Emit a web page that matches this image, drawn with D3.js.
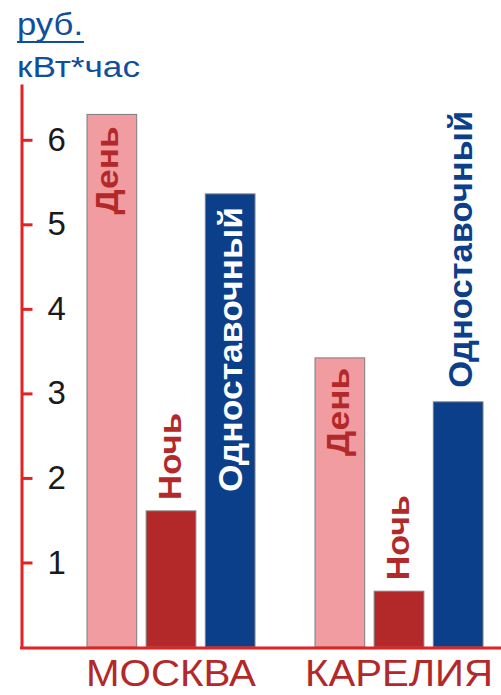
<!DOCTYPE html>
<html><head><meta charset="utf-8">
<script src="https://cdn.jsdelivr.net/npm/d3@7"></script>
<style>body{margin:0;background:#fff}svg{display:block}</style>
</head><body>
<svg id="c" width="501" height="695"></svg>
<script>
// ---- data ----
const categories = ["МОСКВА", "КАРЕЛИЯ"];
const series = ["День", "Ночь", "Одноставочный"];
const moscowValues = [6.30, 1.61, 5.36];
const kareliaValues = [3.42, 0.66, 2.90];
const yTicks = [1, 2, 3, 4, 5, 6];
const unitTop = "руб.";
const unitBottom = "кВт*час";

// ---- style config ----
const seriesColors = ["#F09CA0", "#B3292A", "#0B3F8A"];
const axisRed = "#E32322";
const unitBlue = "#104E9E";
const catLabelLengths = [170, 188];
// label placement per [category][series]
const labelStyle = [
  [ {pos:"in", gap:12, fs:31, len:88, dx:6, fill:"#B3292A"},
    {pos:"out", gap:11, fs:32, len:87, dx:10, fill:"#B3292A"},
    {pos:"in", gap:13, fs:34, len:285, dx:12, fill:"#ffffff"} ],
  [ {pos:"in", gap:10, fs:31, len:88, dx:9, fill:"#B3292A"},
    {pos:"out", gap:11, fs:32, len:85, dx:10, fill:"#B3292A"},
    {pos:"out", gap:14, fs:34, len:277, dx:14, fill:"#0B3F8A"} ]
];

const valuesByCat = [moscowValues, kareliaValues];
const table = categories.map((c, i) => ({cat: c, values: series.map((s, j) => ({s, j, i, v: valuesByCat[i][j]}))}));

const svg = d3.select("#c");
const font = "'Liberation Sans', Arial, sans-serif";

const x0 = d3.scaleBand().domain(categories).range([87, 483]).paddingInner(60 / 228).paddingOuter(0);
const x1 = d3.scaleBand().domain(series).range([0, x0.bandwidth()]).paddingInner(0.16);
const y = d3.scaleLinear().domain([0, 6.66]).range([647, 84]);

// bars
const groups = svg.selectAll("g.grp").data(table).join("g")
  .attr("class", "grp")
  .attr("transform", d => `translate(${x0(d.cat)},0)`);

groups.selectAll("rect").data(d => d.values).join("rect")
  .attr("x", d => x1(d.s))
  .attr("y", d => y(d.v))
  .attr("width", x1.bandwidth())
  .attr("height", d => y(0) - y(d.v))
  .attr("fill", d => seriesColors[d.j])
  .attr("stroke", "#7d7d7d")
  .attr("stroke-width", 1);

// bar labels (rotated)
groups.selectAll("text.bl").data(d => d.values).join("text")
  .attr("class", "bl")
  .each(function(d) {
    const st = labelStyle[d.i][d.j];
    const cx = x1(d.s) + x1.bandwidth() / 2 + st.dx;
    const ty = st.pos === "in" ? y(d.v) + st.gap : y(d.v) - st.gap;
    d3.select(this)
      .attr("transform", `translate(${cx},${ty}) rotate(-90)`)
      .attr("text-anchor", st.pos === "in" ? "end" : "start")
      .attr("font-family", font)
      .attr("font-weight", "bold")
      .attr("font-size", st.fs)
      .attr("textLength", st.len)
      .attr("lengthAdjust", "spacingAndGlyphs")
      .attr("fill", st.fill)
      .text(d.s);
  });

// y axis
const yAxis = d3.axisRight(y).tickValues(yTicks).tickSize(11).tickSizeOuter(0).tickPadding(15).tickFormat(d3.format("d"));
const ga = svg.append("g").attr("transform", "translate(21.5,0)").call(yAxis);
ga.select(".domain").attr("stroke", axisRed).attr("stroke-width", 3);
ga.selectAll(".tick line").attr("stroke", axisRed).attr("stroke-width", 3);
ga.selectAll(".tick text")
  .attr("fill", "#1a1a1a")
  .attr("font-family", font)
  .attr("font-size", 33);

// x axis line
svg.append("line")
  .attr("x1", 20).attr("x2", 501)
  .attr("y1", y(0) + 1).attr("y2", y(0) + 1)
  .attr("stroke", axisRed).attr("stroke-width", 3);

// category labels
svg.selectAll("text.cat").data(categories).join("text")
  .attr("class", "cat")
  .attr("x", d => x0(d) + x0.bandwidth() / 2)
  .attr("y", 686)
  .attr("text-anchor", "middle")
  .attr("font-family", font)
  .attr("font-size", 37)
  .attr("textLength", (d, i) => catLabelLengths[i])
  .attr("lengthAdjust", "spacingAndGlyphs")
  .attr("fill", "#B3292A")
  .text(d => d);

// units
svg.append("text").attr("x", 17).attr("y", 35)
  .attr("font-family", font).attr("font-size", 31)
  .attr("textLength", 66).attr("lengthAdjust", "spacingAndGlyphs")
  .attr("fill", unitBlue).text(unitTop);
svg.append("line").attr("x1", 17).attr("x2", 84).attr("y1", 42).attr("y2", 42)
  .attr("stroke", unitBlue).attr("stroke-width", 2);
svg.append("text").attr("x", 17).attr("y", 77)
  .attr("font-family", font).attr("font-size", 30)
  .attr("textLength", 123).attr("lengthAdjust", "spacingAndGlyphs")
  .attr("fill", unitBlue).text(unitBottom);
</script>
</body></html>
